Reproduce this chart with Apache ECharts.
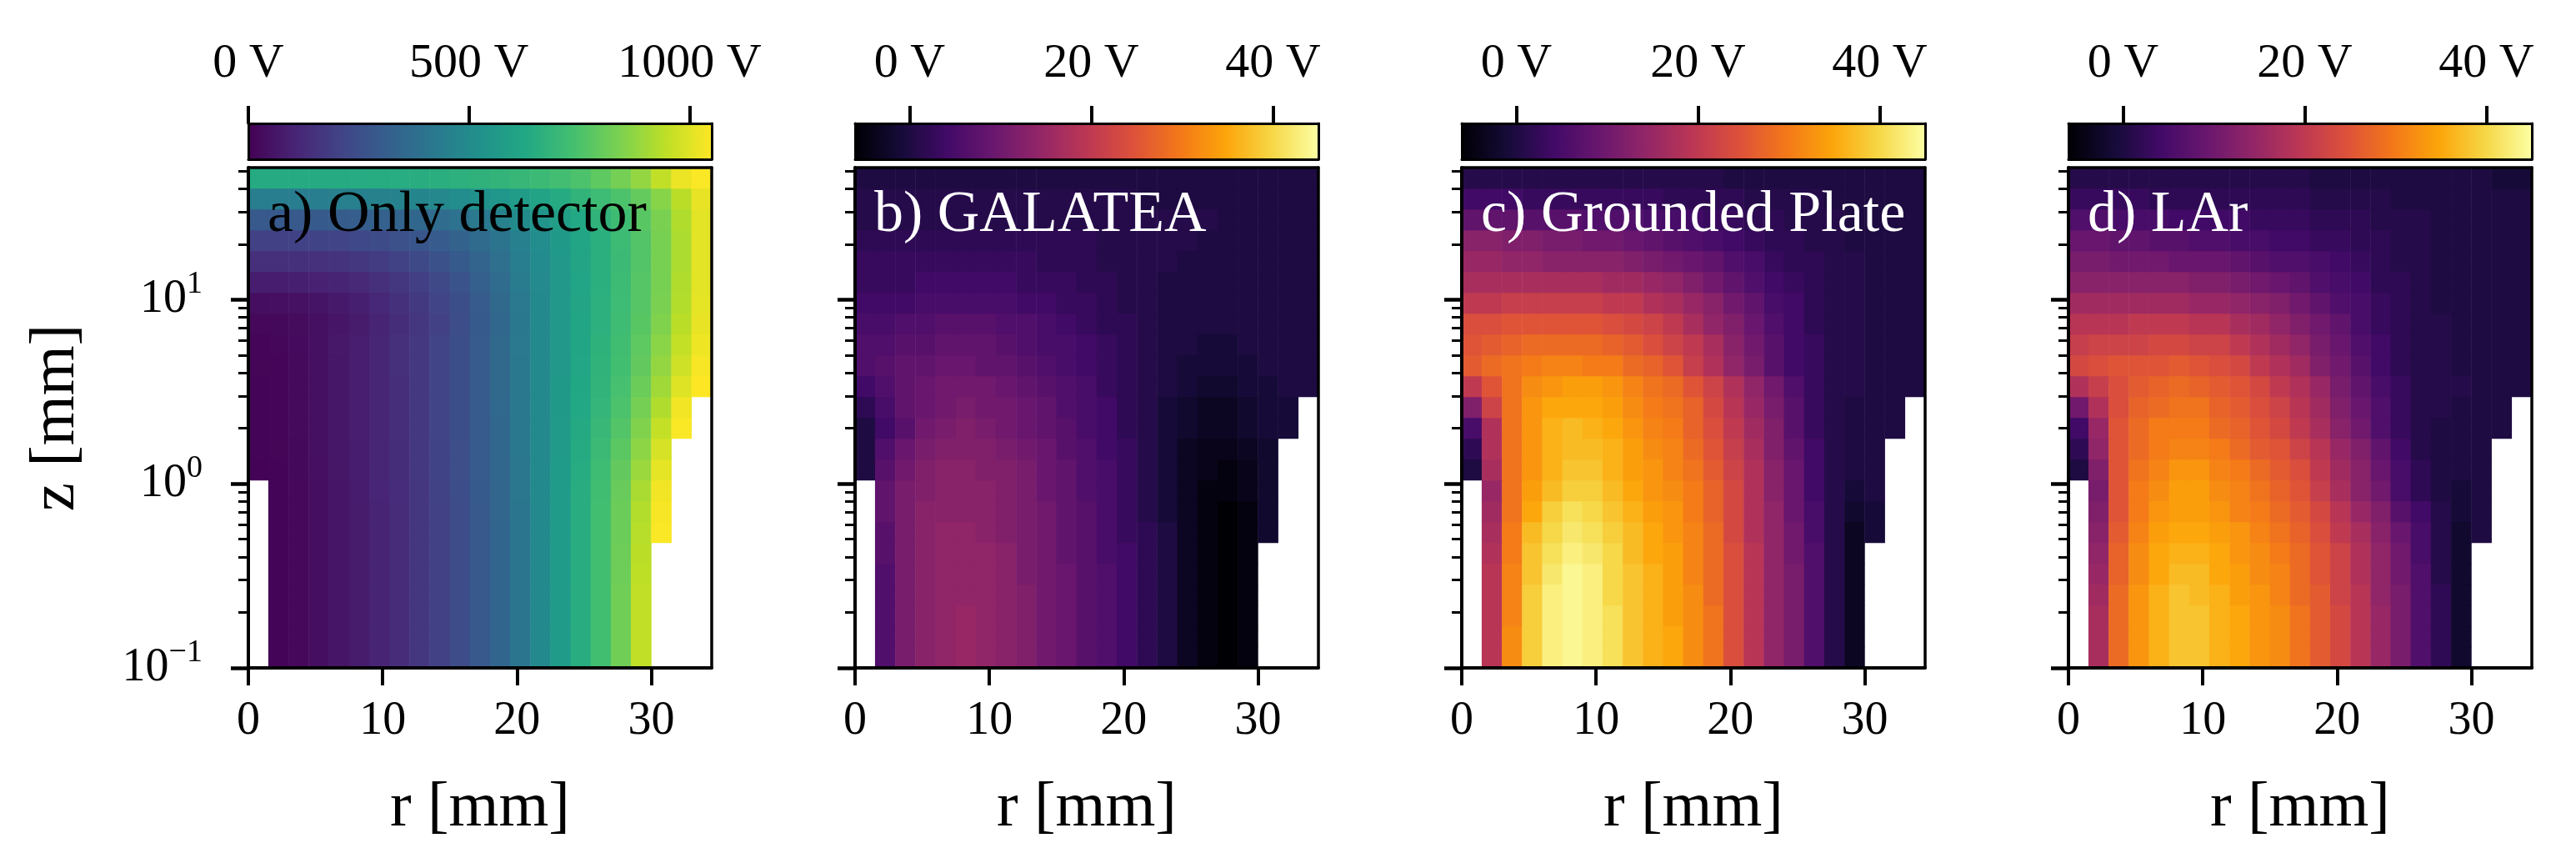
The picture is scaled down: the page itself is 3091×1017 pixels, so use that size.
<!DOCTYPE html>
<html>
<head>
<meta charset="utf-8">
<style>html,body{margin:0;padding:0;background:#fff}#c{width:3091px;height:1017px}</style>
<script src="https://cdn.jsdelivr.net/npm/echarts@6/dist/echarts.min.js"></script>
</head>
<body>
<div id="c"></div>
<script>
const N = null;
// radius column centres (mm) and rows as equal steps of log10 z from 0.1 to 52 mm, bottom row first
const rColumns = [0.75,2.25,3.75,5.25,6.75,8.25,9.75,11.25,12.75,14.25,15.75,17.25,18.75,20.25,21.75,23.25,24.75,26.25,27.75,29.25,30.75,32.25,33.75];
const zRows = [0.114,0.148,0.192,0.25,0.32,0.42,0.54,0.71,0.92,1.19,1.54,2.0,2.6,3.4,4.4,5.7,7.4,9.6,12.5,16.2,21,27,35,46];
const panelTitles = ['a) Only detector','b) GALATEA','c) Grounded Plate','d) LAr'];
const rTicks = [0,10,20,30];
const zMajorTicks = [0.1,1,10];
const zMinorTicks = [0.2,0.3,0.4,0.5,0.6,0.7,0.8,0.9,2,3,4,5,6,7,8,9,20,30,40,50];
const barTicksA = [0,500,1000];
const barTicksI = [0,20,40];

const potentialA = [
[N,10,20,40,60,80,105,130,165,200,240,290,340,410,490,570,650,730,820,950,N,N,N],
[N,10,20,40,60,80,105,130,165,200,240,290,340,410,490,570,650,730,820,950,N,N,N],
[N,10,20,40,60,80,105,130,165,200,240,290,340,410,490,570,650,730,820,950,N,N,N],
[N,10,20,40,60,80,105,130,165,200,240,290,340,410,490,570,650,730,820,950,N,N,N],
[N,10,20,40,60,80,105,130,165,200,240,290,340,410,490,570,650,730,815,945,N,N,N],
[N,10,20,40,60,80,105,130,165,200,240,290,340,410,490,570,650,730,815,940,N,N,N],
[N,10,20,40,60,80,105,130,165,200,240,290,340,410,490,570,650,730,810,935,1045,N,N],
[N,10,20,40,60,80,105,130,165,200,240,290,345,410,490,570,650,730,810,930,1040,N,N],
[N,12,22,40,60,82,108,132,168,205,245,295,345,415,490,570,650,725,805,915,1030,N,N],
[5,12,24,42,62,85,110,135,170,208,248,298,350,415,490,570,645,720,795,890,1010,N,N],
[8,14,25,44,64,86,110,136,170,208,248,298,350,418,490,565,640,710,780,870,985,N,N],
[10,15,26,45,65,88,112,138,172,210,250,300,350,420,490,565,635,700,765,850,955,1045,N],
[10,15,26,45,65,88,112,138,172,210,250,300,352,420,490,560,630,690,750,830,925,1030,N],
[12,15,26,45,65,88,112,138,172,210,250,300,355,422,490,560,625,680,740,810,900,1000,1050],
[14,16,27,45,65,88,112,140,172,210,250,300,355,422,490,555,620,675,730,795,880,975,1040],
[15,18,28,46,66,88,112,140,172,210,250,300,355,425,490,555,615,670,725,785,865,955,1025],
[20,25,32,45,60,80,105,135,165,200,245,295,350,420,490,555,615,665,720,775,850,940,1015],
[40,42,48,58,72,90,115,145,175,210,250,300,355,425,492,555,612,665,715,770,840,930,1010],
[85,85,90,95,105,120,140,165,195,228,268,315,368,432,495,555,610,660,712,768,835,925,1005],
[140,140,143,148,155,168,185,205,232,260,295,338,385,440,498,558,612,660,710,765,835,920,1005],
[200,200,203,208,214,224,238,255,276,300,330,365,405,452,505,560,615,662,712,765,835,920,1005],
[290,290,292,296,302,310,322,335,350,370,395,425,460,500,540,585,630,675,720,775,840,925,1008],
[440,440,442,445,448,452,458,465,475,488,505,525,548,575,605,640,680,715,750,800,860,940,1015],
[640,640,640,640,640,642,645,648,652,658,665,672,682,695,710,728,750,785,830,880,950,1020,1045]];

const potentialB = [
[N,6,11,13,14,15,14,13,12,10,9,7,6,4,2,0,-3,-5,-6,-5,N,N,N],
[N,6,11,13,14,15,14,13,12,10,9,7,6,4,2,0,-3,-5,-6,-5,N,N,N],
[N,6,11,13,14,15,14,13,12,10,9,7,6,4,2,0,-3,-5,-6,-5,N,N,N],
[N,6,11,13,14,14,14,13,12,10,9,7,6,4,2,0,-3,-5,-6,-5,N,N,N],
[N,6,11,13,14,14,14,13,11,10,9,7,6,4,2,0,-3,-5,-6,-5,N,N,N],
[N,7,11,13,14,14,14,13,11,10,8,7,5,4,2,0,-3,-5,-6,-5,N,N,N],
[N,7,11,13,14,14,13,12,11,10,8,7,5,3,2,0,-3,-5,-6,-5,-2,N,N],
[N,8,11,13,13,13,13,12,11,10,8,7,5,3,1,-1,-3,-5,-6,-5,-2,N,N],
[N,8,11,12,13,13,13,12,11,9,8,6,5,3,1,-1,-3,-5,-5,-4,-2,N,N],
[0,7,10,12,13,13,12,12,11,9,8,6,5,3,1,-1,-3,-4,-5,-4,-2,N,N],
[0,6,9,11,12,12,12,11,10,9,7,6,4,3,1,-1,-3,-4,-4,-3,-2,N,N],
[0,4,7,10,11,12,11,10,9,8,7,5,4,2,1,-1,-2,-3,-3,-2,-1,-1,N],
[2,5,8,9,10,11,10,10,9,8,6,5,4,2,1,-1,-2,-3,-3,-2,-1,-1,N],
[4,6,8,9,10,10,10,9,8,7,6,5,3,2,1,0,-1,-2,-2,-1,-1,0,0],
[6,7,8,8,9,9,8,8,7,6,5,4,3,2,1,0,-1,-1,-1,-1,0,0,0],
[6,6,7,7,8,8,8,7,6,5,5,4,3,2,1,0,0,-1,-1,0,0,0,0],
[5,5,6,6,7,7,7,6,6,5,4,3,2,2,1,0,0,0,0,0,0,0,0],
[4,4,4,5,5,5,5,5,4,4,3,3,2,1,1,0,0,0,0,0,0,0,0],
[3,3,3,4,4,4,4,4,3,3,3,2,2,1,1,0,0,0,0,0,0,0,0],
[3,3,3,3,3,3,3,3,3,2,2,2,1,1,1,1,0,0,0,0,0,0,0],
[2,2,2,2,2,2,2,2,2,2,2,2,1,1,1,1,1,0,0,0,0,0,0],
[1,1,1,1,1,1,1,1,1,1,1,1,1,1,1,1,1,1,0,0,0,0,0],
[1,1,1,1,1,1,1,1,1,1,1,1,1,1,0,0,0,0,0,0,0,0,0],
[0,0,0,0,0,0,0,0,0,0,0,0,0,0,0,0,0,0,0,0,0,0,0]];

const potentialC = [
[N,19,32,39,43,44,43,41,38,36,35,32,29,24,19,14,11,6,1,-3,N,N,N],
[N,19,32,39,43,44,43,41,38,36,35,32,29,24,19,14,11,6,1,-3,N,N,N],
[N,19,31,39,43,44,43,41,38,36,34,32,29,24,19,14,11,6,1,-3,N,N,N],
[N,19,31,39,43,44,43,40,38,36,34,32,28,24,19,14,11,6,1,-3,N,N,N],
[N,19,31,38,42,44,43,40,38,36,34,31,28,24,19,14,11,6,1,-3,N,N,N],
[N,18,30,38,41,43,42,40,37,35,34,31,28,24,19,14,10,6,1,-3,N,N,N],
[N,17,30,37,40,42,41,39,37,35,33,31,28,23,18,14,10,5,1,-3,-1,N,N],
[N,16,29,35,39,41,40,38,36,34,33,30,27,23,18,14,9,5,1,-2,-1,N,N],
[N,15,29,34,37,39,39,37,35,33,32,30,27,23,18,13,9,4,1,-1,0,N,N],
[0,17,29,33,36,38,38,36,34,33,31,29,26,22,18,13,9,4,1,0,0,N,N],
[2,18,29,33,36,37,37,36,34,32,31,28,25,21,17,12,8,4,1,0,0,N,N],
[5,18,29,33,36,37,36,35,33,31,30,27,24,20,16,12,7,3,1,0,0,0,N],
[12,22,29,33,35,35,35,34,32,30,29,27,23,19,15,11,7,3,1,0,0,0,N],
[20,25,29,32,33,34,34,33,31,29,28,25,22,18,14,10,6,3,1,1,0,0,0],
[26,28,29,30,31,31,30,30,28,27,25,21,18,14,11,7,4,3,1,1,0,0,0],
[25,26,27,28,28,28,28,27,26,24,22,20,17,13,10,7,4,3,1,1,0,0,0],
[24,24,25,25,25,25,25,24,23,22,20,17,14,12,9,6,4,2,1,1,0,0,0],
[20,20,21,21,21,21,21,20,20,18,17,15,13,10,8,5,4,2,1,1,0,0,0],
[17,17,17,17,17,17,17,16,16,15,14,12,10,8,6,4,3,2,1,1,0,0,0],
[15,15,14,14,13,13,13,13,12,11,10,9,8,6,5,3,2,2,1,1,0,0,0],
[13,13,12,12,11,11,10,10,9,8,7,6,5,4,3,2,2,1,1,0,0,0,0],
[8,8,8,7,7,7,6,6,6,5,5,4,3,3,2,2,1,1,1,0,0,0,0],
[4,4,4,3,3,3,3,3,3,3,2,2,2,2,1,1,1,1,0,0,0,0,0],
[1,1,1,1,1,1,1,1,1,1,1,1,1,0,0,0,0,0,0,0,0,0,0]];

const potentialD = [
[N,17,28,33,36,38,38,36,35,33,32,29,26,23,19,15,11,6,2,-2,N,N,N],
[N,17,28,33,36,38,38,36,35,33,32,29,26,23,19,15,11,6,2,-2,N,N,N],
[N,17,28,33,36,38,38,36,35,33,32,29,26,23,19,15,11,6,2,-2,N,N,N],
[N,16,28,33,36,38,37,36,34,33,31,28,26,22,19,14,11,6,2,-2,N,N,N],
[N,15,27,32,35,37,37,35,34,32,31,28,25,22,18,14,10,6,1,-2,N,N,N],
[N,14,27,32,35,36,36,35,33,32,30,28,25,22,18,14,10,5,1,-2,N,N,N],
[N,13,26,31,34,35,35,34,33,31,29,27,24,20,17,13,9,5,1,-2,0,N,N],
[N,12,25,30,33,34,34,33,31,30,28,26,23,19,15,12,7,4,1,-1,0,N,N],
[N,11,25,30,32,34,34,32,31,29,27,25,21,17,13,10,5,2,0,-1,0,N,N],
[0,12,25,29,31,33,33,31,30,28,26,24,20,16,13,9,5,2,0,0,0,N,N],
[2,14,25,28,30,31,31,30,28,26,25,22,19,15,12,8,4,1,0,0,0,N,N],
[4,15,25,28,30,30,30,28,27,25,23,20,17,13,10,6,3,1,0,0,0,0,N],
[10,18,24,27,28,29,29,27,26,24,22,19,16,12,9,6,3,1,1,0,0,0,N],
[18,21,24,26,27,28,27,26,25,23,20,18,15,11,8,5,3,1,1,1,0,0,0],
[23,24,25,25,25,26,25,24,23,20,18,16,12,10,7,4,2,1,1,0,0,0,0],
[21,22,22,22,23,23,22,22,20,18,16,14,11,9,6,4,2,1,1,0,0,0,0],
[19,19,19,20,20,20,19,19,17,16,14,12,10,8,5,3,2,1,1,0,0,0,0],
[16,16,16,16,16,16,15,15,14,13,12,10,8,6,5,3,2,1,0,0,0,0,0],
[13,13,13,13,13,13,12,12,11,10,9,8,6,5,4,2,2,1,0,0,0,0,0],
[11,11,10,10,10,9,9,9,8,7,6,6,5,4,3,2,1,1,0,0,0,0,0],
[9,9,8,8,7,7,6,6,5,5,4,4,3,3,2,2,1,1,0,0,0,0,0],
[6,6,5,5,5,4,4,4,4,3,3,3,2,2,2,1,1,1,0,0,0,0,0],
[3,3,3,3,2,2,2,2,2,2,2,2,1,1,1,1,0,0,0,0,0,0,0],
[1,1,1,1,1,1,1,1,1,1,1,1,0,0,0,0,0,0,0,0,0,-1,-1]];

const viridis = ['#440154','#482475','#414487','#355f8d','#2a788e','#21918c','#22a884','#44bf70','#7ad151','#bddf26','#fde725'];
const inferno = ['#000004','#160b39','#420a68','#6a176e','#932667','#bc3754','#dd513a','#f37819','#fca50a','#f6d746','#fcffa4'];

const FONT = 'Liberation Serif';
const lefts = [298,1026,1754,2482];
const plotW = 556, plotTop = 201, plotH = 600, barTop = 148, barH = 43;
const panels = [
  {data:potentialA, min:0,  max:1050, colors:viridis, ticks:barTicksA, titleColor:'#000'},
  {data:potentialB, min:-6, max:45,   colors:inferno, ticks:barTicksI, titleColor:'#fff'},
  {data:potentialC, min:-6, max:45,   colors:inferno, ticks:barTicksI, titleColor:'#fff'},
  {data:potentialD, min:-6, max:45,   colors:inferno, ticks:barTicksI, titleColor:'#fff'}
];

const grid=[], xAxis=[], yAxis=[], series=[], visualMap=[], graphic=[];
const line = w => ({show:true, onZero:false, lineStyle:{color:'#000', width:w}});
const zFormatter = v => {
  const e = Math.round(Math.log10(v));
  return '{b|10}{s|' + (e < 0 ? '\u2212' + (-e) : e) + '}';
};

panels.forEach((p,k) => {
  const g = grid.length;
  grid.push({left:lefts[k], top:plotTop, width:plotW, height:plotH, outerBoundsMode:'none', containLabel:false});
  const xCat = xAxis.length;
  xAxis.push({gridIndex:g, type:'category', data:rColumns, position:'top', z:5, axisLine:line(3.5), axisTick:{show:false}, axisLabel:{show:false}, splitLine:{show:false}});
  xAxis.push({gridIndex:g, type:'value', min:0, max:34.5, position:'bottom', z:5, axisLine:line(4), splitLine:{show:false},
    axisTick:{show:true, length:21, customValues:rTicks, lineStyle:{color:'#000', width:4}},
    axisLabel:{show:true, customValues:rTicks, margin:36, fontFamily:FONT, fontSize:56, color:'#000', hideOverlap:false},
    name:'r [mm]', nameLocation:'middle', nameGap:130, nameMoveOverlap:false, nameTextStyle:{fontFamily:FONT, fontSize:77, color:'#000'}});
  const yCat = yAxis.length;
  yAxis.push({gridIndex:g, type:'category', data:zRows, position:'right', z:5, axisLine:line(3.5), axisTick:{show:false}, axisLabel:{show:false}, splitLine:{show:false}});
  const major = {gridIndex:g, type:'log', min:0.1, max:52.1, position:'left', z:5, axisLine:line(4), splitLine:{show:false}, minorTick:{show:false},
    axisTick:{show:true, length:21, customValues:zMajorTicks, lineStyle:{color:'#000', width:4.5}},
    axisLabel:{show:k===0, customValues:zMajorTicks, margin:55, formatter:zFormatter, fontFamily:FONT, color:'#000', hideOverlap:false,
      rich:{b:{fontFamily:FONT, fontSize:56, color:'#000'}, s:{fontFamily:FONT, fontSize:38, color:'#000', padding:[0,0,36,0]}}}};
  if (k===0) Object.assign(major, {name:'z [mm]', nameLocation:'middle', nameRotate:90, nameGap:192, nameMoveOverlap:false, nameTextStyle:{fontFamily:FONT, fontSize:77, color:'#000'}});
  yAxis.push(major);
  yAxis.push({gridIndex:g, type:'log', min:0.1, max:52.1, position:'left', z:5, axisLine:{show:false}, splitLine:{show:false}, minorTick:{show:false}, axisLabel:{show:false},
    axisTick:{show:true, length:12, customValues:zMinorTicks, lineStyle:{color:'#000', width:3}}});

  const cells = [];
  p.data.forEach((row,i) => row.forEach((v,j) => { if (v !== null) cells.push([j,i,v]); }));
  series.push({type:'heatmap', xAxisIndex:xCat, yAxisIndex:yCat, data:cells, progressive:0, silent:true, itemStyle:{borderWidth:0}, emphasis:{disabled:true}});

  visualMap.push({type:'continuous', seriesIndex:k, min:p.min, max:p.max, orient:'horizontal', left:lefts[k], top:barTop, padding:0,
    itemWidth:barH, itemHeight:plotW, calculable:false, hoverLink:false, showLabel:false, text:null, z:4, inRange:{color:p.colors}, textStyle:{fontSize:0}});

  const b = grid.length;
  grid.push({left:lefts[k], top:barTop, width:plotW, height:barH, outerBoundsMode:'none', containLabel:false});
  xAxis.push({gridIndex:b, type:'value', min:p.min, max:p.max, position:'top', z:5, axisLine:line(3), splitLine:{show:false},
    axisTick:{show:true, length:21, customValues:p.ticks, lineStyle:{color:'#000', width:4}},
    axisLabel:{show:true, customValues:p.ticks, margin:42, formatter:v => v + ' V', fontFamily:FONT, fontSize:58, color:'#000', hideOverlap:false}});
  xAxis.push({gridIndex:b, type:'value', min:p.min, max:p.max, position:'bottom', z:5, axisLine:line(3), axisTick:{show:false}, axisLabel:{show:false}, splitLine:{show:false}});
  yAxis.push({gridIndex:b, type:'value', min:0, max:1, position:'left', z:5, axisLine:line(3), axisTick:{show:false}, axisLabel:{show:false}, splitLine:{show:false}});
  yAxis.push({gridIndex:b, type:'value', min:0, max:1, position:'right', z:5, axisLine:line(3), axisTick:{show:false}, axisLabel:{show:false}, splitLine:{show:false}});

  graphic.push({type:'text', z:100, left:lefts[k]+23, top:224, style:{text:panelTitles[k], fontFamily:FONT, fontSize:70, fill:p.titleColor}});
});

const chart = echarts.init(document.getElementById('c'), null, {renderer:'canvas', width:3091, height:1017});
chart.setOption({animation:false, backgroundColor:'#fff', grid, xAxis, yAxis, series, visualMap, graphic, tooltip:{show:false}});
</script>
</body>
</html>
